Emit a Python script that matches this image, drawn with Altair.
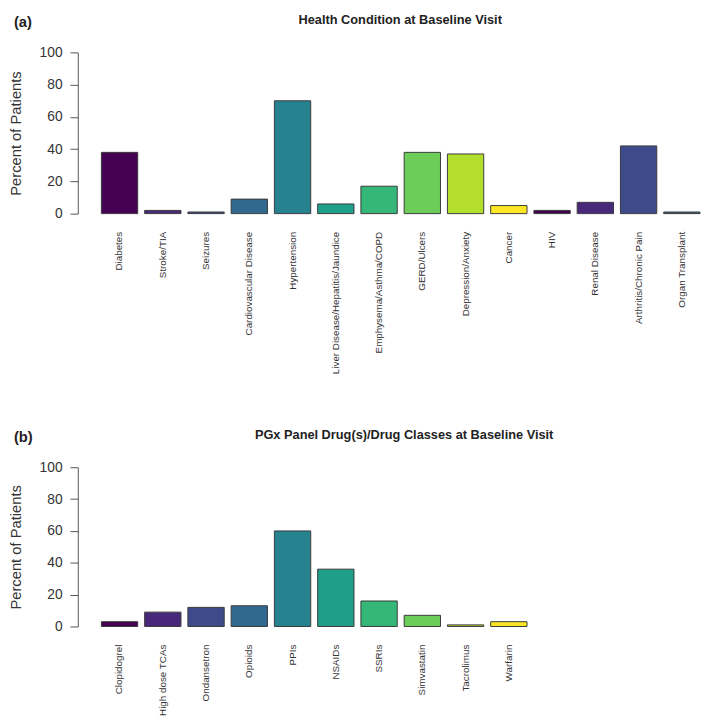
import altair as alt
import pandas as pd

# ---- data ----
conditions = [
    "Diabetes", "Stroke/TIA", "Seizures", "Cardiovascular Disease", "Hypertension",
    "Liver Disease/Hepatitis/Jaundice", "Emphysema/Asthma/COPD", "GERD/Ulcers",
    "Depression/Anxiety", "Cancer", "HIV", "Renal Disease", "Arthritis/Chronic Pain",
    "Organ Transplant",
]
condition_pct = [38, 2, 1, 9, 70, 6, 17, 38, 37, 5, 2, 7, 42, 1]

drugs = [
    "Clopidogrel", "High dose TCAs", "Ondansetron", "Opioids", "PPIs", "NSAIDs",
    "SSRIs", "Simvastatin", "Tacrolimus", "Warfarin",
]
drug_pct = [3, 9, 12, 13, 60, 36, 16, 7, 1, 3]

viridis10 = ["#440154", "#482878", "#3E4A89", "#31688E", "#26828E",
             "#1F9E89", "#35B779", "#6DCD59", "#B4DE2C", "#FDE725"]
condition_colors = [viridis10[i % 10] for i in range(len(conditions))]
drug_colors = [viridis10[i % 10] for i in range(len(drugs))]

y_ticks = [0, 20, 40, 60, 80, 100]

FONT = "Liberation Sans"


def panel(names, values, colors, title, tag, width, height, title_x):
    df = pd.DataFrame({"label": names, "pct": values})
    bars = alt.Chart(df).mark_bar(stroke="#3a3a3a", strokeWidth=1).encode(
        x=alt.X(
            "label:N", sort=names,
            scale=alt.Scale(paddingInner=0.16, paddingOuter=0),
            axis=alt.Axis(title=None, labelAngle=-90, labelFontSize=10,
                          labelPadding=18, ticks=False, tickSize=0, domain=False,
                          labelColor="#333333", labelFont=FONT, labelLimit=400),
        ),
        y=alt.Y(
            "pct:Q",
            scale=alt.Scale(domain=[0, 100], nice=False),
            axis=alt.Axis(title="Percent of Patients", values=y_ticks, offset=24,
                          tickSize=8, labelPadding=8, labelFontSize=14,
                          labelColor="#333333", labelFont=FONT, grid=False,
                          domainColor="#555555", tickColor="#555555",
                          titleFont=FONT, titleFontSize=15, titleFontWeight="normal",
                          titleColor="#333333", titlePadding=16),
        ),
        color=alt.Color("label:N", scale=alt.Scale(domain=names, range=colors),
                        legend=None),
    )
    tag_df = pd.DataFrame({"t": [tag]})
    tag_text = alt.Chart(tag_df).mark_text(
        align="left", baseline="middle", fontSize=15, fontWeight="bold",
        font=FONT, color="#222222",
    ).encode(text="t:N", x=alt.value(-89), y=alt.value(-31))
    title_df = pd.DataFrame({"t": [title]})
    title_text = alt.Chart(title_df).mark_text(
        align="center", baseline="middle", fontSize=13, fontWeight="bold",
        font=FONT, color="#222222",
    ).encode(text="t:N", x=alt.value(title_x), y=alt.value(-33))
    return alt.layer(bars, tag_text, title_text).properties(width=width, height=height)


top = panel(conditions, condition_pct, condition_colors,
            "Health Condition at Baseline Visit", "(a)", 609, 164, 304)
bottom = panel(drugs, drug_pct, drug_colors,
               "PGx Panel Drug(s)/Drug Classes at Baseline Visit", "(b)", 433, 162, 308)

chart = alt.vconcat(top, bottom, spacing=55).properties(
    padding={"left": 0, "top": 0, "right": 0, "bottom": 0}
).configure_view(stroke=None)

chart.save("out.html", embed_options={"renderer": "svg", "actions": False})
